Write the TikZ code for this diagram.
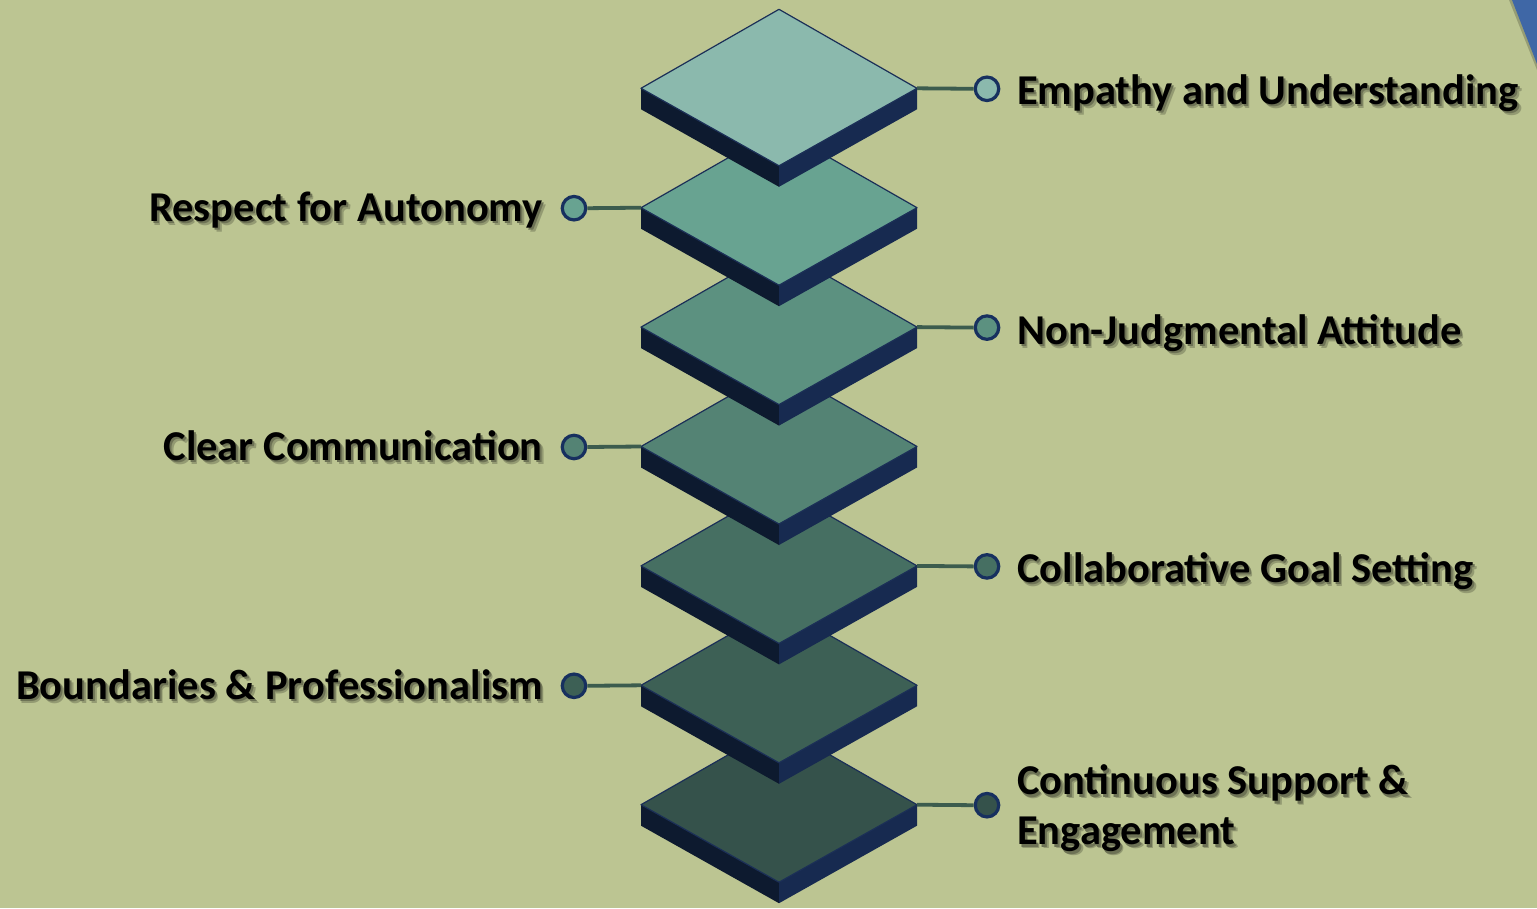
\documentclass[tikz,border=0pt]{standalone}
\usepackage{fontspec}
\setmainfont{Carlito}
\definecolor{bgc}{HTML}{BCC592}
\definecolor{tria}{HTML}{3F67A6}
\definecolor{sideL}{HTML}{0D1A2F}
\definecolor{sideR}{HTML}{172A50}
\definecolor{edge}{HTML}{1B2F57}
\definecolor{ring}{HTML}{17305F}
\definecolor{conn}{HTML}{3C5C4E}
\definecolor{ta}{HTML}{8BB9AD}
\definecolor{tb}{HTML}{68A391}
\definecolor{tc}{HTML}{5C9180}
\definecolor{td}{HTML}{548374}
\definecolor{te}{HTML}{466F62}
\definecolor{tf}{HTML}{3D6055}
\definecolor{tg}{HTML}{35524B}
\colorlet{shadowA}{bgc!78!black}
\colorlet{shadowB}{bgc!58!black}
\newcommand\shd[1]{\leavevmode\rlap{\kern3.5pt\raisebox{-4pt}{\color{shadowA}#1}}\rlap{\kern2pt\raisebox{-2.8pt}{\color{shadowB}#1}}#1}
\tikzset{
  dot/.style={circle, draw=ring, line width=3.2pt, minimum size=23.5pt, inner sep=0pt},
  connline/.style={draw=conn, line width=3.8pt},
  lbl/.style={font=\bfseries\fontsize{42.5}{50}\selectfont, inner sep=0pt, text=black, align=left},
}
\begin{document}
\begin{tikzpicture}[x=1pt,y=-1pt]
\useasboundingbox (0,0) rectangle (1537,908);
\fill[bgc] (0,0) rectangle (1537,908);
% corner triangle
\fill[black, opacity=0.2] (1509,0) -- (1537,0) -- (1537,70) -- cycle;
\fill[tria] (1512,0) -- (1537,0) -- (1537,64) -- cycle;
% tiles, bottom first
\foreach \k/\col in {6/tg,5/tf,4/te,3/td,2/tc,1/tb,0/ta} {
  \pgfmathsetmacro\L{88.3+119.4*\k}
  \pgfmathsetmacro\T{\L-79}
  \pgfmathsetmacro\B{\L+77.5}
  \pgfmathsetmacro\LL{\L+21}
  \pgfmathsetmacro\BB{\B+21}
  \fill[sideL] (641,\L) -- (779,\B) -- (779,\BB) -- (641,\LL) -- cycle;
  \fill[sideR] (779,\B) -- (917,\L) -- (917,\LL) -- (779,\BB) -- cycle;
  \filldraw[fill=\col, draw=edge, line width=1.2pt, line join=round] (779,\T) -- (917,\L) -- (779,\B) -- (641,\L) -- cycle;
  \coordinate (tl\k) at (641,\L);
  \coordinate (tr\k) at (917,\L);
}
% right connectors
\node[dot, fill=ta] (c0) at (987,88.8) {};
\node[dot, fill=tc] (c2) at (987,327.6) {};
\node[dot, fill=te] (c4) at (987,566.4) {};
\node[dot, fill=tg] (c6) at (987,805.2) {};
% left connectors
\node[dot, fill=tb] (c1) at (574,208.2) {};
\node[dot, fill=td] (c3) at (574,447) {};
\node[dot, fill=tf] (c5) at (574,685.8) {};
\draw[connline] (tr0) -- (c0.west);
\draw[connline] (tr2) -- (c2.west);
\draw[connline] (tr4) -- (c4.west);
\draw[connline] (tr6) -- (c6.west);
\draw[connline] (tl1) -- (c1.east);
\draw[connline] (tl3) -- (c3.east);
\draw[connline] (tl5) -- (c5.east);
% labels
\node[lbl, anchor=base west] (l0) at (1017,104) {\shd{Empathy and Understanding}};
\node[lbl, anchor=base west] (l2) at (1017,344) {\shd{Non-Judgmental Attitude}};
\node[lbl, anchor=base west] (l4) at (1017,582) {\shd{Collaborative Goal Setting}};
\node[lbl, anchor=west] (l6) at (1017,810) {\shd{Continuous Support \&}\\\shd{Engagement}};
\node[lbl, anchor=base east] (l1) at (543,221) {\shd{Respect for Autonomy}};
\node[lbl, anchor=base east] (l3) at (543,460) {\shd{Clear Communication}};
\node[lbl, anchor=base east] (l5) at (543,699) {\shd{Boundaries \& Professionalism}};
\end{tikzpicture}
\end{document}
